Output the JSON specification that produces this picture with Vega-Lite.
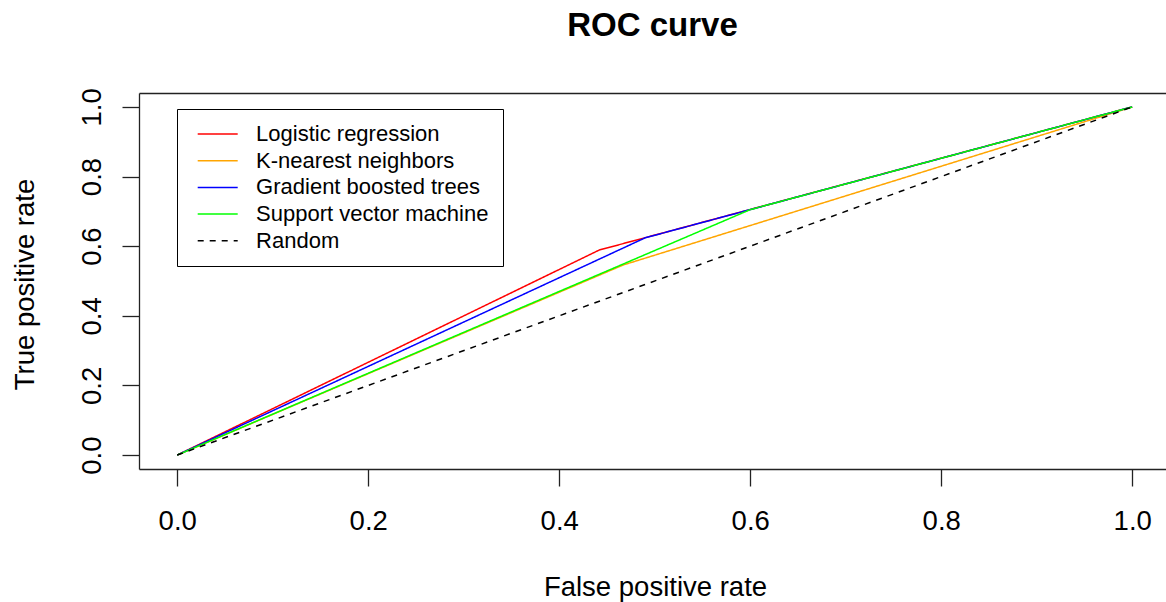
{
  "$schema": "https://vega.github.io/schema/vega-lite/v6.json",
  "width": 1027,
  "height": 376,
  "autosize": {"type": "none"},
  "padding": {"left": 139, "top": 93, "right": 0, "bottom": 133},
  "background": "white",
  "title": {"text": "ROC curve", "fontSize": 33, "font": "Liberation Sans", "fontWeight": "bold", "anchor": "middle", "frame": "group", "baseline": "alphabetic", "offset": 19, "color": "#000"},
  "config": {"view": {"stroke": null}, "font": "Liberation Sans"},
  "data": {"values": [
    {"model": "Logistic regression", "fpr": 0, "tpr": 0},
    {"model": "Logistic regression", "fpr": 0.442, "tpr": 0.589},
    {"model": "Logistic regression", "fpr": 1, "tpr": 1},
    {"model": "K-nearest neighbors", "fpr": 0, "tpr": 0},
    {"model": "K-nearest neighbors", "fpr": 0.467, "tpr": 0.546},
    {"model": "K-nearest neighbors", "fpr": 1, "tpr": 1},
    {"model": "Gradient boosted trees", "fpr": 0, "tpr": 0},
    {"model": "Gradient boosted trees", "fpr": 0.49, "tpr": 0.624},
    {"model": "Gradient boosted trees", "fpr": 1, "tpr": 1},
    {"model": "Support vector machine", "fpr": 0, "tpr": 0},
    {"model": "Support vector machine", "fpr": 0.6, "tpr": 0.705},
    {"model": "Support vector machine", "fpr": 1, "tpr": 1},
    {"model": "Random", "fpr": 0, "tpr": 0},
    {"model": "Random", "fpr": 1, "tpr": 1}
  ]},
  "encoding": {
    "y": {"field": "tpr", "type": "quantitative", "scale": {"domain": [-0.04, 1.04], "nice": false, "zero": false},
      "axis": {"values": [0, 0.2, 0.4, 0.6, 0.8, 1.0], "format": ".1f", "grid": false, "domain": true, "domainColor": "#222", "domainWidth": 1.3,
        "tickSize": 17, "tickColor": "#222", "tickWidth": 1.3, "labelAngle": -90, "labelAlign": "center", "labelBaseline": "alphabetic", "labelPadding": 22,
        "labelFontSize": 27.5, "labelColor": "#000", "labelFont": "Liberation Sans", "labelFlush": false, "labelOverlap": false, "labelBound": false,
        "title": "True positive rate", "titleFontSize": 27.5, "titleFontWeight": "normal", "titleColor": "#000", "titleFont": "Liberation Sans",
        "titleAngle": -90, "titleX": -106, "titleY": 191, "titleBaseline": "alphabetic", "titleAlign": "center"}}
  },
  "layer": [
    {
      "mark": {"type": "line", "strokeWidth": 1.5},
      "encoding": {
        "x": {"field": "fpr", "type": "quantitative", "scale": {"domain": [-0.04, 1.0354], "nice": false, "zero": false},
          "axis": {"values": [0, 0.2, 0.4, 0.6, 0.8, 1.0], "format": ".1f", "grid": false, "domain": true, "domainColor": "#222", "domainWidth": 1.3,
            "tickSize": 17, "tickColor": "#222", "tickWidth": 1.3, "labelPadding": 21.5, "labelFontSize": 27.5, "labelColor": "#000", "labelFont": "Liberation Sans",
            "labelFlush": false, "labelOverlap": false, "labelBound": false,
            "title": "False positive rate", "titleFontSize": 27.5, "titleFontWeight": "normal", "titleColor": "#000", "titleFont": "Liberation Sans",
            "titleX": 516, "titleY": 126.5, "titleBaseline": "alphabetic", "titleAlign": "center"}},
        "color": {"field": "model", "type": "nominal",
          "scale": {"domain": ["Logistic regression", "K-nearest neighbors", "Gradient boosted trees", "Support vector machine", "Random"],
                    "range": ["#FF0000", "#FFA500", "#0000FF", "#00FF00", "#000000"]},
          "legend": {"orient": "none", "legendX": 38, "legendY": 16, "title": null, "labelFontSize": 22, "labelFont": "Liberation Sans", "labelColor": "#000",
            "symbolType": "stroke", "symbolSize": 1600, "symbolStrokeWidth": 1.5, "labelOffset": 17.4, "symbolOffset": 5.7, "padding": 14, "rowPadding": 4.7,
            "clipHeight": 22, "strokeColor": "#000", "fillColor": "#fff", "labelLimit": 0}},
        "strokeDash": {"field": "model", "type": "nominal",
          "scale": {"domain": ["Logistic regression", "K-nearest neighbors", "Gradient boosted trees", "Support vector machine", "Random"],
                    "range": [[1, 0], [1, 0], [1, 0], [1, 0], [6, 6]]},
          "legend": {"orient": "none", "legendX": 38, "legendY": 16, "title": null, "labelFontSize": 22, "labelFont": "Liberation Sans", "labelColor": "#000",
            "symbolType": "stroke", "symbolSize": 1600, "symbolStrokeWidth": 1.5, "labelOffset": 17.4, "symbolOffset": 5.7, "padding": 14, "rowPadding": 4.7,
            "clipHeight": 22, "strokeColor": "#000", "fillColor": "#fff", "labelLimit": 0}}
      }
    },
    {
      "mark": {"type": "line", "opacity": 0},
      "encoding": {
        "x": {"field": "fpr", "type": "quantitative", "scale": {"domain": [-0.04, 1.0354], "nice": false, "zero": false},
          "axis": {"orient": "top", "domain": true, "domainColor": "#222", "domainWidth": 1.3, "ticks": false, "labels": false, "grid": false, "title": null}},
        "detail": {"field": "model", "type": "nominal"}
      }
    }
  ],
  "resolve": {"axis": {"x": "independent"}}
}
